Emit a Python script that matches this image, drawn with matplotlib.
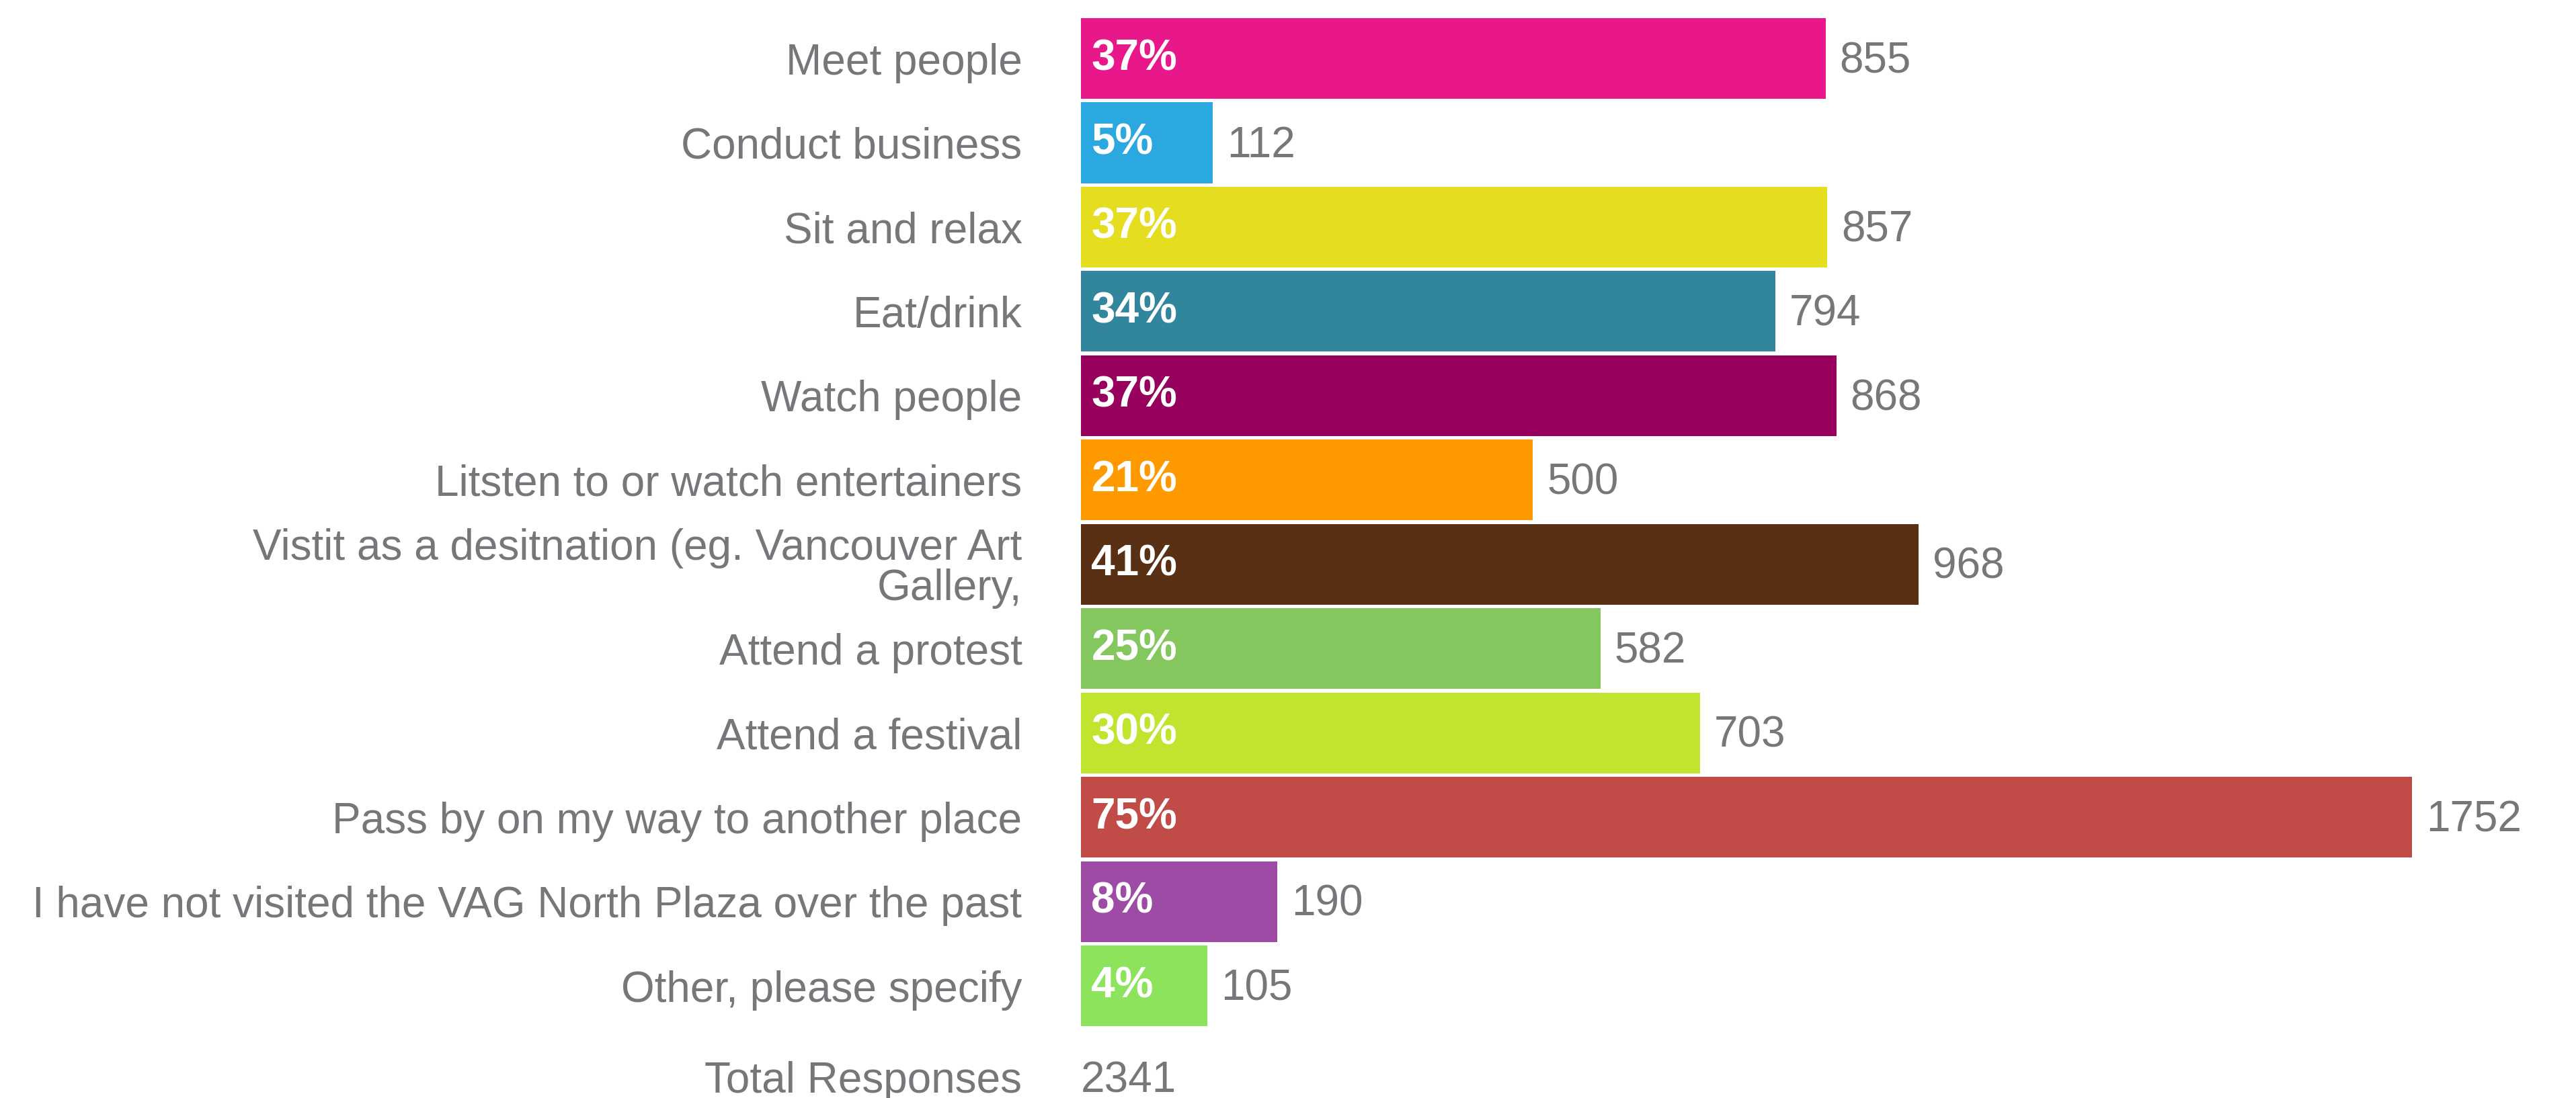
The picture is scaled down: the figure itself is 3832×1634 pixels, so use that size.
import numpy as np
import matplotlib
matplotlib.use("Agg")
import matplotlib.pyplot as plt

# survey answers, top to bottom
categories = [
    "Meet people",
    "Conduct business",
    "Sit and relax",
    "Eat/drink",
    "Watch people",
    "Litsten to or watch entertainers",
    "Vistit as a desitnation (eg. Vancouver Art\nGallery,",
    "Attend a protest",
    "Attend a festival",
    "Pass by on my way to another place",
    "I have not visited the VAG North Plaza over the past",
    "Other, please specify",
]
counts = [855, 112, 857, 794, 868, 500, 968, 582, 703, 1752, 190, 105]
percents = [37, 5, 37, 34, 37, 21, 41, 25, 30, 75, 8, 4]
total_label = "Total Responses"
total_responses = 2341

colors = ["#E8178A", "#2CA8E0", "#E4DD20", "#31859D", "#98005E", "#FE9900",
          "#5A3014", "#84C75E", "#C1E42E", "#C04B47", "#9E4BA5", "#8EE35D"]

grey = "#76777B"
fs = 46
plt.rcParams["font.family"] = ["Liberation Sans", "DejaVu Sans"]

W, H = 3832, 1634
fig = plt.figure(figsize=(W / 100, H / 100), dpi=100)
top_px = 24.3
ax = fig.add_axes([1608 / W, 0, 1980 / W, (H - top_px) / H])

base = 48          # bars start a little left of zero
xmax = 1566        # longest bar runs past the panel edge
y = np.arange(len(categories))

ax.barh(y, np.array(counts) + base, left=-base, height=0.957, color=colors)

for i, (c, p) in enumerate(zip(counts, percents)):
    ax.annotate(f"{p}%", (-base, i), xytext=(11, 0), textcoords="offset points",
                ha="left", va="center", color="white", fontsize=fs,
                fontweight="bold")
    ax.annotate(str(c), (min(c, xmax), i), xytext=(15, -3),
                textcoords="offset points", ha="left", va="center",
                color=grey, fontsize=fs, annotation_clip=False)

# total row sits a touch lower, no bar
ytot = len(categories) + 0.08
ax.annotate(str(total_responses), (-base, ytot), xytext=(0, -4),
            textcoords="offset points", ha="left", va="center",
            color=grey, fontsize=fs, annotation_clip=False)

ax.set_yticks(list(y) + [ytot])
ax.set_yticklabels(categories + [total_label], fontsize=fs, color=grey,
                   linespacing=1.0)
ax.tick_params(axis="y", length=0, pad=63)
ax.set_xticks([])
ax.set_xlim(-base, xmax)
ax.set_ylim(12.83 - 0.5, -0.5)
for s in ax.spines.values():
    s.set_visible(False)

fig.savefig("out.png", dpi=100)
